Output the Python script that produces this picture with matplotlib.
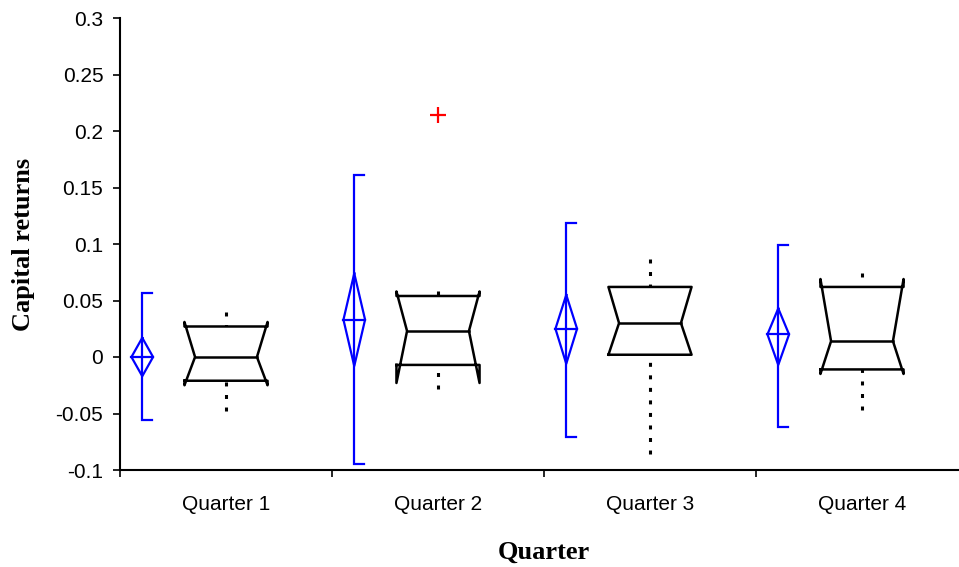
import matplotlib
matplotlib.use("Agg")
import matplotlib.pyplot as plt

# Data
quarters = ['Quarter 1', 'Quarter 2', 'Quarter 3', 'Quarter 4']

# blue diamonds: mean with its interval, bracket range
mean = [0.0, 0.033, 0.025, 0.020]
mean_lo = [-0.017, -0.008, -0.006, -0.007]
mean_hi = [0.017, 0.074, 0.055, 0.043]
range_lo = [-0.056, -0.095, -0.071, -0.062]
range_hi = [0.057, 0.161, 0.119, 0.099]

# black notched boxes
q1 = [-0.021, -0.007, 0.002, -0.011]
median = [0.0, 0.023, 0.030, 0.014]
q3 = [0.027, 0.054, 0.062, 0.062]
notch_lo = [-0.025, -0.023, 0.002, -0.015]
notch_hi = [0.031, 0.058, 0.062, 0.069]
whisker_lo = [-0.048, -0.028, -0.086, -0.047]
whisker_hi = [0.040, 0.058, 0.087, 0.074]

# outliers (quarter index, value)
outlier_pos = [2]
outlier_val = [0.214]

plt.rcParams['font.family'] = ['Liberation Sans', 'DejaVu Sans']

fig = plt.figure(figsize=(9.59, 5.67), dpi=100)
ax = fig.add_axes([120 / 959, 97 / 567, 848 / 959, 452 / 567])

blue = '#0000FF'
box_w = 0.196     # half width of box
notch_w = 0.146   # half width at the median
dia_w = 0.051     # half width of diamond
cap_w = 0.047     # bracket cap length
shift = -0.395    # diamond offset from category centre

for i, q in enumerate(quarters):
    x = i + 1

    # mean diamond + bracket
    xm = x + shift
    ax.plot([xm + cap_w, xm, xm, xm + cap_w],
            [range_hi[i], range_hi[i], range_lo[i], range_lo[i]],
            color=blue, lw=1.6, solid_joinstyle='miter')
    ax.plot([xm, xm + dia_w, xm, xm - dia_w, xm],
            [mean_hi[i], mean[i], mean_lo[i], mean[i], mean_hi[i]],
            color=blue, lw=1.6)
    ax.plot([xm - dia_w, xm + dia_w], [mean[i], mean[i]], color=blue, lw=1.6)

    # dotted whiskers (drawn from the tip so a dot sits at the end)
    ax.plot([x, x], [whisker_hi[i], q3[i]], color='black', lw=2.2,
            ls=(0, (1.3, 2.8)), dash_capstyle='butt', zorder=1)
    ax.plot([x, x], [whisker_lo[i], q1[i]], color='black', lw=2.2,
            ls=(0, (1.3, 2.8)), dash_capstyle='butt', zorder=1)

    # notched box
    L, R = x - box_w, x + box_w
    cL, cR = x - notch_w, x + notch_w
    ax.plot([L, R, R, cR, R, R, L, L, cL, L, L],
            [q1[i], q1[i], notch_lo[i], median[i], notch_hi[i], q3[i],
             q3[i], notch_hi[i], median[i], notch_lo[i], q1[i]],
            color='black', lw=1.8, zorder=2)
    ax.plot([cL, cR], [median[i], median[i]], color='black', lw=1.8, zorder=2)

ax.plot(outlier_pos, outlier_val, ls='none', marker='+', ms=11, mew=1.6,
        color='#FF0000')

ax.set_xlim(0.5, 4.5)
ax.set_ylim(-0.1, 0.3)
ax.set_yticks([-0.1, -0.05, 0, 0.05, 0.1, 0.15, 0.2, 0.25, 0.3])
ax.set_yticklabels(['-0.1', '-0.05', '0', '0.05', '0.1', '0.15', '0.2', '0.25', '0.3'])
ax.set_xticks([0.5, 1.5, 2.5, 3.5])
ax.set_xticklabels([])
ax.set_xticks([1, 2, 3, 4], quarters, minor=True)

ax.spines['top'].set_visible(False)
ax.spines['right'].set_visible(False)
ax.spines['left'].set_linewidth(1.5)
ax.spines['bottom'].set_linewidth(1.5)

ax.tick_params(axis='y', direction='out', length=5, width=1.2, pad=7, labelsize=15)
ax.tick_params(axis='x', which='major', direction='out', length=5, width=1.2)
ax.tick_params(axis='x', which='minor', length=0, pad=18, labelsize=15)

ax.set_xlabel('Quarter', family='Liberation Serif', fontweight='bold',
              fontsize=19, labelpad=19)
ax.set_ylabel('Capital returns', family='Liberation Serif', fontweight='bold',
              fontsize=19, labelpad=15)

plt.savefig('out.png', dpi=100)
plt.close()
